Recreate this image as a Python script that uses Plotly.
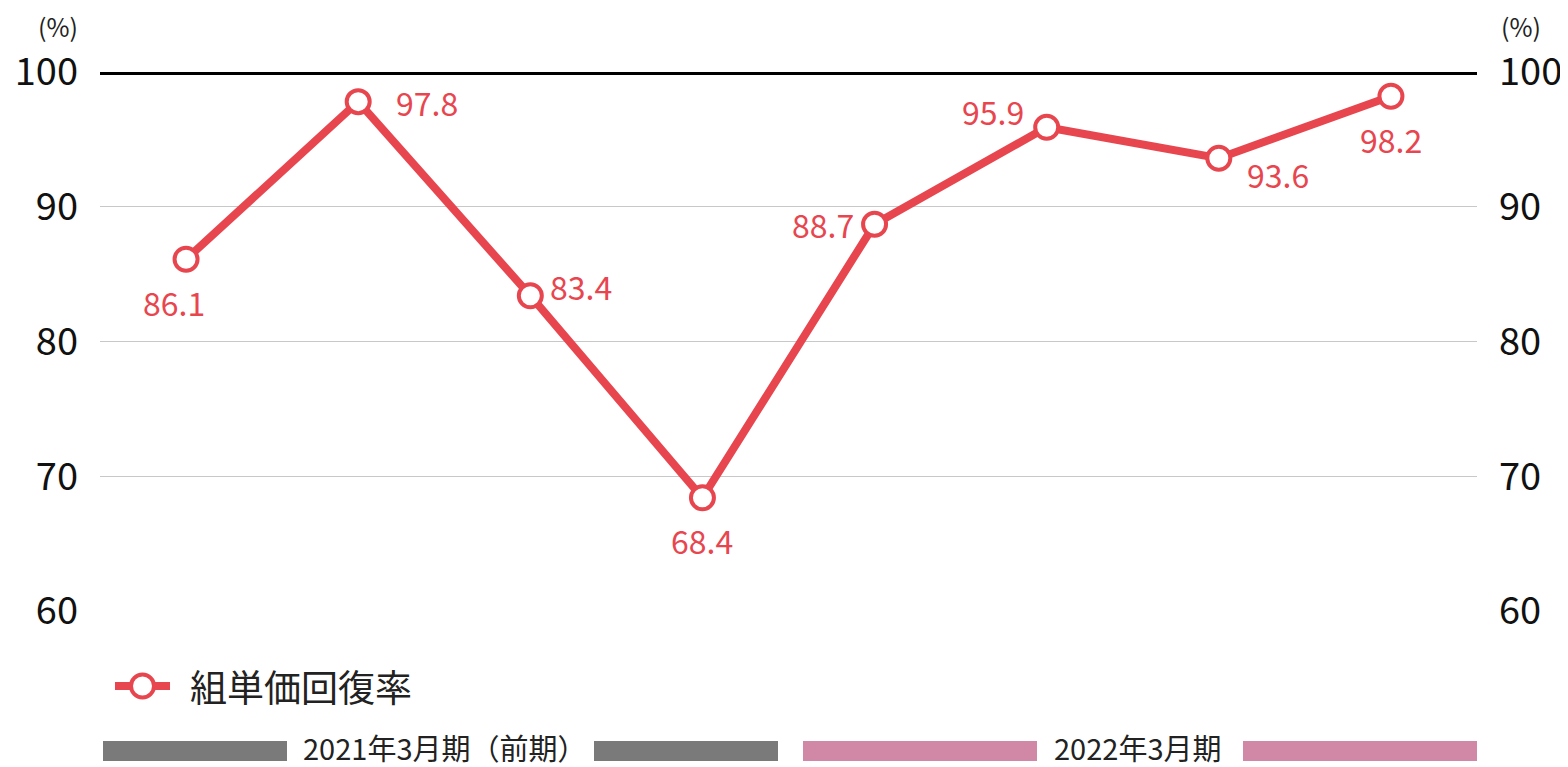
import plotly.graph_objects as go

# 組単価回復率 (%) — 8 periods, first 4 = 2021年3月期(前期), last 4 = 2022年3月期
periods = ["P1", "P2", "P3", "P4", "P5", "P6", "P7", "P8"]
recovery = [86.1, 97.8, 83.4, 68.4, 88.7, 95.9, 93.6, 98.2]
y_ticks = [60, 70, 80, 90, 100]
series_name = "組単価回復率"
period_names = ["2021年3月期（前期）", "2022年3月期"]

# pixel offsets of each value label from its point
label_dx = [-12, 69, 51, 0, -52, -54, 59, 0]
label_dy = [43, 0, -10, 42, 0, -16, 16, 43]

RED = "#E8464F"
FONT = "Noto Sans CJK JP"

fig = go.Figure()
fig.add_trace(go.Scatter(
    x=periods, y=recovery, mode="lines+markers",
    name=series_name, showlegend=False,
    line=dict(color=RED, width=8),
    marker=dict(size=23, color="white", line=dict(color=RED, width=4)),
    cliponaxis=False,
))
# invisible trace so the right axis is drawn
fig.add_trace(go.Scatter(x=periods, y=recovery, yaxis="y2", mode="lines",
                         line=dict(width=0), showlegend=False, hoverinfo="skip"))

for p, v, dx, dy in zip(periods, recovery, label_dx, label_dy):
    fig.add_annotation(x=p, y=v, text=f"{v:.1f}", showarrow=False,
                       xshift=dx, yshift=-dy,
                       font=dict(family=FONT, size=32, color=RED))

# 100% reference line
fig.add_shape(type="line", xref="paper", x0=0, x1=1, yref="y", y0=100, y1=100,
              line=dict(color="black", width=6), layer="above")

# reference-picture pixel frame of the plot area
L, R, TOP, BOT = 100, 1477, 72, 611
W, H = R - L, BOT - TOP
px = lambda x: (x - L) / W
py = lambda y: (BOT - y) / H

# hand-made legend
fig.add_shape(type="line", xref="paper", yref="paper", x0=px(115), x1=px(170),
              y0=py(686), y1=py(686), line=dict(color=RED, width=8))
fig.add_shape(type="circle", xref="paper", yref="paper",
              x0=px(131), x1=px(154), y0=py(697.5), y1=py(674.5),
              fillcolor="white", line=dict(color=RED, width=4))
fig.add_annotation(text=series_name, xref="paper", yref="paper", x=px(188),
                   y=py(686), xanchor="left", yanchor="middle", showarrow=False,
                   font=dict(family=FONT, size=37, color="#222"))

# period bars at the bottom
gray, pink = "#7A7A7A", "#D187A6"
bars = [(103, 287, gray), (594, 778, gray), (803, 1037, pink), (1243, 1477, pink)]
for x0, x1, c in bars:
    fig.add_shape(type="rect", xref="paper", yref="paper",
                  x0=px(x0), x1=px(x1), y0=py(761), y1=py(741),
                  fillcolor=c, line=dict(width=0))
for txt, xc in zip(period_names, [444, 1137]):
    fig.add_annotation(text=txt, xref="paper", yref="paper",
                       x=px(xc), y=py(747), xanchor="center", yanchor="middle",
                       showarrow=False, borderpad=0,
                       font=dict(family=FONT, size=29, color="#222"))
for xp, anc in [(px(79), "right"), (px(1500), "left")]:
    fig.add_annotation(text="(%)", xref="paper", yref="paper", x=xp,
                       y=py(26), xanchor=anc, yanchor="middle",
                       showarrow=False, borderpad=0,
                       font=dict(family=FONT, size=25, color="#222"))

yax = dict(range=[60, 100], tickvals=y_ticks, showgrid=True, gridcolor="#C8C8C8",
           gridwidth=1, zeroline=False, showline=False, automargin=False,
           tickfont=dict(family=FONT, size=38, color="#111"), ticks="",
           ticklabelstandoff=21)
# page body has an 8px margin, so the figure is shifted by -8
FW, FH = 1560, 759
fig.update_layout(
    width=FW, height=FH,
    margin=dict(l=L - 8, r=FW - (R - 8), t=TOP - 8, b=FH - (BOT - 8)),
    plot_bgcolor="white", paper_bgcolor="white",
    xaxis=dict(visible=False, range=[-0.5, 7.5], automargin=False),
    yaxis=yax,
    yaxis2=dict(**yax, overlaying="y", side="right"),
    showlegend=False,
)

fig.write_html("out.html")
